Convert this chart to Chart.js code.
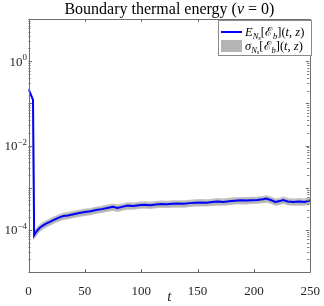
<!DOCTYPE html>
<html><head><meta charset="utf-8">
<script src="https://cdn.jsdelivr.net/npm/chart.js@4/dist/chart.umd.min.js"></script>
<style>html,body{margin:0;padding:0;background:#fff;overflow:hidden}#w{width:324px;height:306px;position:relative}</style>
</head><body><div id="w"><canvas id="c"></canvas></div>
<script>
// ---- data ----
const tValues = [0, 4, 5, 6, 8, 10, 13, 16, 19, 22, 25, 28, 31, 35, 40, 45, 50, 55, 60, 65, 70, 75, 79, 83, 88, 93, 98, 103, 108, 113, 118, 123, 128, 133, 138, 143, 148, 153, 158, 163, 168, 173, 178, 183, 188, 193, 198, 203, 208, 211, 215, 219, 223, 226, 230, 235, 240, 245, 250];
const energyMean = [0.22, 0.12, 7.5e-5, 8.3e-5, 9.8e-5, 1.12e-4, 1.28e-4, 1.42e-4, 1.55e-4, 1.70e-4, 1.85e-4, 2.0e-4, 2.12e-4, 2.2e-4, 2.35e-4, 2.5e-4, 2.65e-4, 2.75e-4, 2.95e-4, 3.1e-4, 3.3e-4, 3.5e-4, 3.3e-4, 3.5e-4, 3.75e-4, 3.7e-4, 3.85e-4, 3.95e-4, 3.85e-4, 4.0e-4, 4.1e-4, 4.05e-4, 4.15e-4, 4.2e-4, 4.15e-4, 4.3e-4, 4.4e-4, 4.45e-4, 4.4e-4, 4.55e-4, 4.7e-4, 4.6e-4, 4.75e-4, 4.9e-4, 5.0e-4, 4.95e-4, 5.05e-4, 5.1e-4, 5.3e-4, 5.5e-4, 5.1e-4, 4.6e-4, 4.8e-4, 5.1e-4, 4.7e-4, 4.6e-4, 4.7e-4, 4.6e-4, 5.0e-4];
const energyStd = [0.004, 0.003, 1.1e-5, 1.3e-5, 1.5e-5, 1.8e-5, 2.0e-5, 2.2e-5, 2.4e-5, 2.7e-5, 2.9e-5, 3.1e-5, 3.3e-5, 3.5e-5, 3.7e-5, 3.9e-5, 4.2e-5, 4.3e-5, 4.6e-5, 4.9e-5, 5.2e-5, 5.5e-5, 5.2e-5, 5.5e-5, 5.9e-5, 5.8e-5, 6.0e-5, 6.2e-5, 6.0e-5, 6.3e-5, 6.4e-5, 6.4e-5, 6.5e-5, 6.6e-5, 6.5e-5, 6.8e-5, 6.9e-5, 7.0e-5, 6.9e-5, 7.1e-5, 7.4e-5, 7.2e-5, 7.5e-5, 7.7e-5, 7.9e-5, 7.8e-5, 7.9e-5, 8.0e-5, 8.3e-5, 8.6e-5, 8.0e-5, 7.2e-5, 7.5e-5, 8.0e-5, 7.4e-5, 7.2e-5, 7.4e-5, 7.2e-5, 7.8e-5];
const xTicks = [0, 50, 100, 150, 200, 250];
const yLabelValues = [1, 1e-2, 1e-4];
const yLabelExponents = ['0', '\u22122', '\u22124'];
const yDecades = [-5, -4, -3, -2, -1, 0, 1];

const SERIF = '"Liberation Serif", "DejaVu Serif", serif';
const meanPts = tValues.map((t, i) => ({x: t, y: energyMean[i]}));
const upPts = tValues.map((t, i) => ({x: t, y: energyMean[i] + energyStd[i]}));
const loPts = tValues.map((t, i) => ({x: t, y: energyMean[i] - energyStd[i]}));

function fontOf(size, it) { return (it ? 'italic ' : '') + size + 'px ' + SERIF; }
function richWidth(ctx, parts) {
  let w = 0;
  for (const [txt, size, , it] of parts) { ctx.font = fontOf(size, it); w += ctx.measureText(txt).width; }
  return w;
}
function drawRich(ctx, x, y, parts) {
  for (const [txt, size, dy, it] of parts) {
    ctx.font = fontOf(size, it);
    ctx.fillText(txt, x, y + dy);
    x += ctx.measureText(txt).width;
  }
  return x;
}

const decor = {
  id: 'decor',
  afterDraw(chart) {
    const ctx = chart.ctx, a = chart.chartArea;
    const xs = chart.scales.x, ys = chart.scales.y;
    ctx.save();
    ctx.strokeStyle = '#6e6e6e';
    ctx.lineWidth = 1;
    ctx.beginPath();
    ctx.rect(Math.round(a.left) + 0.5, Math.round(a.top) + 0.5, Math.round(a.right - a.left) - 1, Math.round(a.bottom - a.top));
    ctx.stroke();
    // inward ticks
    ctx.beginPath();
    for (const tk of xs.ticks) {
      const px = Math.round(xs.getPixelForValue(tk.value)) + 0.5;
      ctx.moveTo(px, a.bottom); ctx.lineTo(px, a.bottom - 3);
      ctx.moveTo(px, a.top); ctx.lineTo(px, a.top + 3);
    }
    for (const tk of ys.ticks) {
      const py = Math.round(ys.getPixelForValue(tk.value)) + 0.5;
      const major = Math.abs(Math.log10(tk.value) - Math.round(Math.log10(tk.value))) < 1e-9;
      const L = major ? 3.5 : 2;
      ctx.moveTo(a.left, py); ctx.lineTo(a.left + L, py);
      ctx.moveTo(a.right - 1, py); ctx.lineTo(a.right - 1 - L, py);
    }
    ctx.stroke();
    ctx.fillStyle = '#262626';
    ctx.textBaseline = 'alphabetic';
    // y tick labels (10^n) positioned by the y scale
    yLabelValues.forEach((v, i) => {
      const py = ys.getPixelForValue(v);
      const parts = [['10', 13, 0, false], [yLabelExponents[i], 9, -5.5, false]];
      const w = richWidth(ctx, parts);
      drawRich(ctx, a.left - 1.5 - w, py + 4.5, parts);
    });
    // title
    ctx.fillStyle = '#000';
    const tparts = [['Boundary thermal energy (', 16, 0, false], ['\u03BD', 16, 0, true], [' = 0)', 16, 0, false]];
    drawRich(ctx, (a.left + a.right) / 2 - richWidth(ctx, tparts) / 2, 14, tparts);
    // legend
    const bx = 218, by = 20, bw = 93, bh = 35;
    ctx.fillStyle = '#fff';
    ctx.fillRect(bx, by, bw, bh);
    ctx.strokeStyle = '#8a8a8a';
    ctx.strokeRect(bx + 0.5, by + 0.5, bw, bh);
    ctx.strokeStyle = '#0000ff'; ctx.lineWidth = 2;
    ctx.beginPath(); ctx.moveTo(221, 32); ctx.lineTo(242, 32); ctx.stroke();
    ctx.fillStyle = '#b4b4b4';
    ctx.fillRect(221, 40, 21, 12);
    ctx.fillStyle = '#000';
    const S = 12.5, s1 = 8.5, s2 = 6.5;
    const tail = [['[', S, 0, false], ['\u2130', S, 0, false], ['b', s1, 2.5, true], ['](', S, 0, false], ['t', S, 0, true], [', ', S, 0, false], ['z', S, 0, true], [')', S, 0, false]];
    drawRich(ctx, 245, 36, [['E', S, 0, true], ['N', s1, 2.5, true], ['s', s2, 4, true]].concat(tail));
    drawRich(ctx, 245, 50, [['\u03C3', S, 0, true], ['N', s1, 2.5, true], ['s', s2, 4, true]].concat(tail));
    ctx.restore();
  }
};

new Chart(document.getElementById('c'), {
  type: 'line',
  data: {
    datasets: [
      {label: 'E_Ns[Eb](t,z)', data: meanPts, borderColor: '#0000ff', borderWidth: 2, pointRadius: 0, fill: false, order: 0, tension: 0},
      {label: 'sigma upper', data: upPts, borderColor: '#c4c4c4', borderWidth: 1.5, backgroundColor: '#b4b4b4', pointRadius: 0, fill: '+1', order: 1, tension: 0},
      {label: 'sigma lower', data: loPts, borderColor: '#c4c4c4', borderWidth: 1.5, pointRadius: 0, fill: false, order: 2, tension: 0}
    ]
  },
  options: {
    responsive: true, maintainAspectRatio: false, animation: false,
    layout: {padding: {top: 19, right: 12, left: 0, bottom: 0}},
    plugins: {legend: {display: false}, title: {display: false}, tooltip: {enabled: false}},
    scales: {
      x: {
        type: 'linear', min: 0, max: 250,
        afterBuildTicks: s => { s.ticks = xTicks.map(v => ({value: v})); },
        ticks: {color: '#262626', font: {family: SERIF, size: 13}, padding: 4, maxRotation: 0, autoSkip: false},
        grid: {display: false}, border: {display: false},
        title: {display: true, text: 't', color: '#262626', font: {family: SERIF, size: 15, style: 'italic'}, padding: {top: 0, bottom: 0}},
        afterFit: s => { s.height = 34; }
      },
      y: {
        type: 'logarithmic', min: 1e-5, max: 10,
        afterBuildTicks: s => {
          const tk = [];
          for (const d of yDecades) {
            for (let m = 1; m <= 9; m++) { const v = m * Math.pow(10, d); if (v <= 10 * 1.0001) tk.push({value: v}); }
          }
          s.ticks = tk;
        },
        ticks: {display: false},
        grid: {display: false}, border: {display: false},
        afterFit: s => { s.width = 28.5; }
      }
    }
  },
  plugins: [decor]
});
</script></body></html>
